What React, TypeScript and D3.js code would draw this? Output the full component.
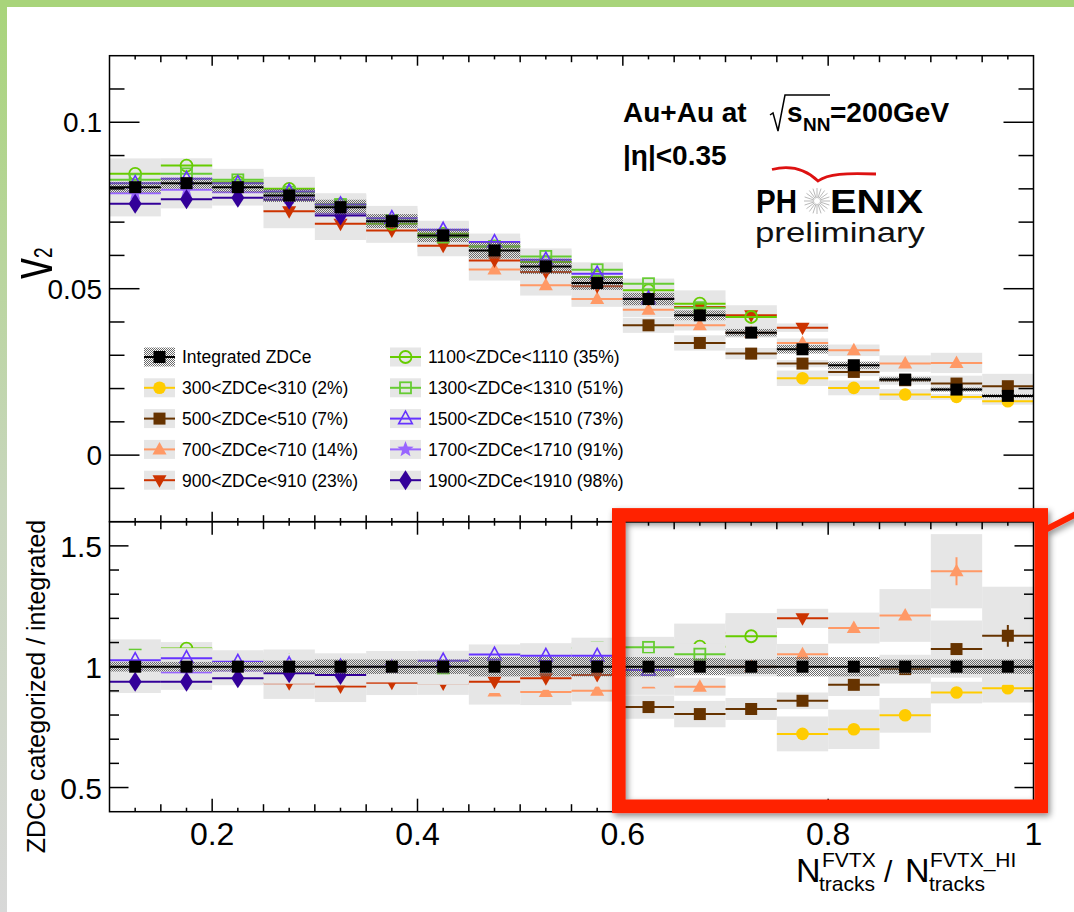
import React from "react";
import * as d3 from "d3";

// ---------- DATA ----------
const binCenters = [0.125, 0.175, 0.225, 0.275, 0.325, 0.375, 0.425, 0.475, 0.525, 0.575, 0.625, 0.675, 0.725, 0.775, 0.825, 0.875, 0.925, 0.975];
const binHalfWidth = 0.025;

const integratedV2 = [0.0805, 0.0817, 0.0805, 0.078, 0.0745, 0.0703, 0.066, 0.0615, 0.0567, 0.0517, 0.0469, 0.042, 0.0368, 0.0318, 0.027, 0.0227, 0.0197, 0.0178];
const integratedSys = [0.02, 0.02, 0.02, 0.025, 0.03, 0.03, 0.03, 0.04, 0.04, 0.04, 0.04, 0.035, 0.03, 0.04, 0.04, 0.03, 0.03, 0.03];

const start300 = 13;
const v2_300 = [0.0231, 0.0202, 0.0182, 0.0175, 0.0162];
const ratio300 = [0.722, 0.741, 0.799, 0.893, 0.911];
const sys300 = [0.1, 0.11, 0.09, 0.05, 0.065];

const start500 = 10;
const v2_500 = [0.039, 0.0337, 0.0305, 0.0275, 0.025, 0.0225, 0.0215, 0.0207];
const ratio500 = [0.833, 0.804, 0.825, 0.859, 0.925, 0.99, 1.073, 1.128];
const sys500 = [0.058, 0.068, 0.055, 0.04, 0.05, 0.06, 0.11, 0.18];
const stat500 = [0, 0, 0, 0, 0, 0, 0.01, 0.045];

const start700 = 7;
const v2_700 = [0.0558, 0.051, 0.0469, 0.0437, 0.039, 0.0368, 0.0337, 0.0315, 0.0275, 0.0277];
const ratio700 = [0.897, 0.895, 0.901, 0.93, 0.917, 1.0, 1.052, 1.16, 1.212, 1.395];
const sys700 = [0.06, 0.06, 0.05, 0.05, 0.04, 0.04, 0.04, 0.055, 0.09, 0.11];
const stat700 = [0, 0, 0, 0, 0, 0, 0, 0, 0.01, 0.058];

const start900 = 3;
const v2_900 = [0.0733, 0.0695, 0.0675, 0.0629, 0.0585, 0.055, 0.0507, 0.047, 0.0445, 0.042, 0.0383];
const ratio900 = [0.932, 0.918, 0.934, 0.93, 0.938, 0.952, 0.966, 1.0, 1.06, 1.14, 1.2];
const sys900 = [0.07, 0.07, 0.055, 0.05, 0.05, 0.05, 0.05, 0.05, 0.05, 0.045, 0.033];

const start1100 = 0;
const v2_1100 = [0.0845, 0.087, 0.082, 0.08, 0.0753, 0.0695, 0.0665, 0.0627, 0.058, 0.0535, 0.0495, 0.0455, 0.0415];
const ratio1100 = [1.055, 1.075, 1.02, 1.025, 1.01, 0.99, 1.005, 1.02, 1.02, 1.035, 1.055, 1.083, 1.126];
const sys1100 = [0.055, 0.025, 0.04, 0.045, 0.045, 0.04, 0.04, 0.04, 0.04, 0.05, 0.065, 0.088, 0.085];

const start1300 = 0;
const v2_1300 = [0.0827, 0.0845, 0.0827, 0.079, 0.0753, 0.0705, 0.0655, 0.0627, 0.0597, 0.0557, 0.0515, 0.0443];
const ratio1300 = [1.048, 1.034, 1.027, 1.013, 1.01, 1.003, 0.995, 1.02, 1.053, 1.077, 1.08, 1.052];
const sys1300 = [0.04, 0.04, 0.04, 0.04, 0.04, 0.04, 0.07, 0.04, 0.04, 0.04, 0.03, 0.04];

const start1500 = 0;
const v2_1500 = [0.0817, 0.083, 0.0817, 0.0792, 0.0753, 0.0712, 0.0677, 0.064, 0.0587, 0.0545, 0.047];
const ratio1500 = [1.027, 1.035, 1.02, 1.01, 1.0, 1.01, 1.025, 1.05, 1.045, 1.045, 0.986];
const sys1500 = [0.04, 0.04, 0.04, 0.04, 0.04, 0.04, 0.04, 0.04, 0.05, 0.055, 0.07];

const start1700 = 0;
const v2_1700 = [0.0787, 0.0797, 0.079, 0.0775, 0.0725, 0.0703];
const ratio1700 = [0.978, 0.975, 0.98, 0.986, 0.973, 1.0];
const sys1700 = [0.04, 0.04, 0.04, 0.04, 0.04, 0.065];

const start1900 = 0;
const v2_1900 = [0.0755, 0.0769, 0.0773, 0.0767, 0.072];
const ratio1900 = [0.938, 0.938, 0.952, 0.973, 0.966];
const sys1900 = [0.05, 0.036, 0.03, 0.045, 0.045];

const labelIntegrated = "Integrated ZDCe";
const seriesLabels = [
  "300<ZDCe<310 (2%)", "500<ZDCe<510 (7%)", "700<ZDCe<710 (14%)", "900<ZDCe<910 (23%)",
  "1100<ZDCe<1110 (35%)", "1300<ZDCe<1310 (51%)", "1500<ZDCe<1510 (73%)", "1700<ZDCe<1710 (91%)", "1900<ZDCe<1910 (98%)",
];

const topYTicks = [0, 0.05, 0.1];
const topYTickLabels = ["0", "0.05", "0.1"];
const botYTicks = [0.5, 1, 1.5];
const botYTickLabels = ["0.5", "1", "1.5"];
const xTicks = [0.2, 0.4, 0.6, 0.8, 1.0];
const xTickLabels = ["0.2", "0.4", "0.6", "0.8", "1"];

// ---------- STYLE ----------
const FONT = "'Liberation Sans', Arial, Helvetica, sans-serif";
const BOX = "#e6e6e6";

type MarkerType = "circle" | "square" | "triUp" | "triDown" | "openCircle" | "openSquare" | "openTri" | "star" | "diamond";

interface Series {
  label: string; color: string; marker: MarkerType; start: number;
  v2: number[]; ratio: number[]; sys: number[]; stat?: number[];
}

const series: Series[] = [
  { label: seriesLabels[0], color: "#ffcc00", marker: "circle", start: start300, v2: v2_300, ratio: ratio300, sys: sys300 },
  { label: seriesLabels[1], color: "#663300", marker: "square", start: start500, v2: v2_500, ratio: ratio500, sys: sys500, stat: stat500 },
  { label: seriesLabels[2], color: "#ff9966", marker: "triUp", start: start700, v2: v2_700, ratio: ratio700, sys: sys700, stat: stat700 },
  { label: seriesLabels[3], color: "#cc3300", marker: "triDown", start: start900, v2: v2_900, ratio: ratio900, sys: sys900 },
  { label: seriesLabels[4], color: "#66cc00", marker: "openCircle", start: start1100, v2: v2_1100, ratio: ratio1100, sys: sys1100 },
  { label: seriesLabels[5], color: "#66cc33", marker: "openSquare", start: start1300, v2: v2_1300, ratio: ratio1300, sys: sys1300 },
  { label: seriesLabels[6], color: "#6633ff", marker: "openTri", start: start1500, v2: v2_1500, ratio: ratio1500, sys: sys1500 },
  { label: seriesLabels[7], color: "#9966ff", marker: "star", start: start1700, v2: v2_1700, ratio: ratio1700, sys: sys1700 },
  { label: seriesLabels[8], color: "#330099", marker: "diamond", start: start1900, v2: v2_1900, ratio: ratio1900, sys: sys1900 },
];

function starPoints(cx: number, cy: number, ro: number, ri: number) {
  return d3.range(10).map((k) => {
    const a = -Math.PI / 2 + (k * Math.PI) / 5;
    const r = k % 2 === 0 ? ro : ri;
    return `${cx + r * Math.cos(a)},${cy + r * Math.sin(a)}`;
  }).join(" ");
}

function Marker({ type, color, cx, cy }: { type: MarkerType; color: string; cx: number; cy: number }) {
  switch (type) {
    case "circle":
      return <circle cx={cx} cy={cy} r={6.3} fill={color} />;
    case "square":
      return <rect x={cx - 6} y={cy - 6} width={12} height={12} fill={color} />;
    case "triUp":
      return <polygon points={`${cx},${cy - 7.5} ${cx + 7},${cy + 5} ${cx - 7},${cy + 5}`} fill={color} />;
    case "triDown":
      return <polygon points={`${cx},${cy + 7.5} ${cx + 7},${cy - 5} ${cx - 7},${cy - 5}`} fill={color} />;
    case "openCircle":
      return <circle cx={cx} cy={cy} r={6} fill="none" stroke={color} strokeWidth={1.8} />;
    case "openSquare":
      return <rect x={cx - 5.5} y={cy - 5.5} width={11} height={11} fill="none" stroke={color} strokeWidth={1.8} />;
    case "openTri":
      return <polygon points={`${cx},${cy - 7.5} ${cx + 6.8},${cy + 5} ${cx - 6.8},${cy + 5}`} fill="none" stroke={color} strokeWidth={1.6} />;
    case "star":
      return <polygon points={starPoints(cx, cy, 8.5, 3.6)} fill={color} />;
    case "diamond":
      return <polygon points={`${cx},${cy - 10} ${cx + 6.5},${cy} ${cx},${cy + 10} ${cx - 6.5},${cy}`} fill={color} />;
  }
  return null;
}

const X0 = 109.5, X1 = 1033.5;
const YT0 = 55.7, YMID = 521.7, YB1 = 811.7;

export default function App() {
  const x = d3.scaleLinear().domain([0.1, 1.0]).range([X0, X1]);
  const yT = d3.scaleLinear().domain([-0.02, 0.12]).range([YMID, YT0]);
  const yB = d3.scaleLinear().domain([0.4, 1.6]).range([YB1, YMID]);

  const xMinor = d3.range(0, 37).map((k) => 0.1 + k * 0.025).filter((v) => v > 0.101 && v < 0.999);
  const xKind = (v: number) => {
    const r2 = Math.round(v * 1000);
    if (r2 % 200 === 0) return 2;
    if (r2 % 50 === 0) return 1;
    return 0;
  };
  const topYMinor = d3.range(-1, 12).map((k) => k * 0.01);
  const botYMinor = d3.range(5, 16).map((k) => k * 0.1);

  const binRect = (cx: number) => ({ xa: x(cx - binHalfWidth), xb: x(cx + binHalfWidth) });

  // ---- top panel elements ----
  const topBoxes: JSX.Element[] = [];
  const topMarks: JSX.Element[] = [];
  series.forEach((s, si) => {
    s.v2.forEach((v, i) => {
      const c = binCenters[s.start + i];
      const { xa, xb } = binRect(c);
      const h = v * s.sys[i];
      topBoxes.push(<rect key={`tb${si}-${i}`} x={xa} width={xb - xa} y={yT(v + h)} height={yT(v - h) - yT(v + h)} fill={BOX} />);
      topMarks.push(<line key={`tl${si}-${i}`} x1={xa} x2={xb} y1={yT(v)} y2={yT(v)} stroke={s.color} strokeWidth={2} />);
      topMarks.push(<Marker key={`tm${si}-${i}`} type={s.marker} color={s.color} cx={x(c)} cy={yT(v)} />);
    });
  });

  // ---- bottom panel elements (drawn series by series) ----
  const botElems: JSX.Element[] = [];
  series.forEach((s, si) => {
    s.ratio.forEach((r, i) => {
      const c = binCenters[s.start + i];
      const { xa, xb } = binRect(c);
      const h = r * s.sys[i];
      botElems.push(<rect key={`bb${si}-${i}`} x={xa} width={xb - xa} y={yB(r + h)} height={yB(r - h) - yB(r + h)} fill={BOX} />);
    });
    s.ratio.forEach((r, i) => {
      const c = binCenters[s.start + i];
      const { xa, xb } = binRect(c);
      botElems.push(<line key={`bl${si}-${i}`} x1={xa} x2={xb} y1={yB(r)} y2={yB(r)} stroke={s.color} strokeWidth={2} />);
      const st = s.stat ? s.stat[i] : 0;
      if (st > 0) botElems.push(<line key={`bs${si}-${i}`} x1={x(c)} x2={x(c)} y1={yB(r + st)} y2={yB(r - st)} stroke={s.color} strokeWidth={2} />);
      botElems.push(<Marker key={`bm${si}-${i}`} type={s.marker} color={s.color} cx={x(c)} cy={yB(r)} />);
    });
  });

  const legendY = (k: number) => 357 + k * 30.8;
  const legendItems = [
    { col: 0, row: 0, integrated: true, label: labelIntegrated, color: "#000", marker: "square" as MarkerType },
    ...series.map((s, i) => ({ col: i < 4 ? 0 : 1, row: i < 4 ? i + 1 : i - 4, integrated: false, label: s.label, color: s.color, marker: s.marker })),
  ];
  const colBoxX = [144, 390];
  const colTextX = [182, 428];

  return (
    <svg width={1074} height={912} style={{ position: "absolute", left: 0, top: 0, background: "#fff" }} fontFamily={FONT}>
      <defs>
        <pattern id="hatch" width={2} height={2} patternUnits="userSpaceOnUse">
          <rect x={0} y={0} width={1} height={1} fill="#6a6a6a" />
          <rect x={1} y={1} width={1} height={1} fill="#6a6a6a" />
        </pattern>
        <linearGradient id="leftStrip" x1="0" y1="0" x2="0" y2="1">
          <stop offset="0" stopColor="#a8d47a" />
          <stop offset="0.55" stopColor="#c8d6bd" />
          <stop offset="1" stopColor="#d8d8d8" />
        </linearGradient>
        <clipPath id="clipTop"><rect x={X0} y={YT0} width={X1 - X0} height={YMID - YT0} /></clipPath>
        <clipPath id="clipBot"><rect x={X0} y={YMID} width={X1 - X0} height={YB1 - YMID} /></clipPath>
        <filter id="shadow" x="-10%" y="-10%" width="130%" height="130%">
          <feDropShadow dx={2} dy={3} stdDeviation={3} floodColor="#000" floodOpacity={0.45} />
        </filter>
      </defs>

      {/* slide frame */}
      <rect x={0} y={0} width={1074} height={912} fill="#fff" />
      <rect x={0} y={0} width={7} height={912} fill="url(#leftStrip)" />
      <rect x={0} y={0} width={1074} height={7} fill="#a8d47a" />

      {/* ---- top panel ---- */}
      <g clipPath="url(#clipTop)">
        {topBoxes}
        {topMarks}
        {integratedV2.map((v, i) => {
          const { xa, xb } = binRect(binCenters[i]);
          const h = v * integratedSys[i];
          return <rect key={`th${i}`} x={xa} width={xb - xa} y={yT(v + h)} height={yT(v - h) - yT(v + h)} fill="url(#hatch)" />;
        })}
        {integratedV2.map((v, i) => {
          const { xa, xb } = binRect(binCenters[i]);
          return <line key={`tk${i}`} x1={xa} x2={xb} y1={yT(v)} y2={yT(v)} stroke="#000" strokeWidth={2} />;
        })}
        {integratedV2.map((v, i) => <Marker key={`tq${i}`} type="square" color="#000" cx={x(binCenters[i])} cy={yT(v)} />)}
      </g>

      {/* ---- bottom panel ---- */}
      <g clipPath="url(#clipBot)">
        {botElems}
        {integratedSys.map((sv, i) => {
          const { xa, xb } = binRect(binCenters[i]);
          return <rect key={`bh${i}`} x={xa} width={xb - xa} y={yB(1 + sv)} height={yB(1 - sv) - yB(1 + sv)} fill="url(#hatch)" />;
        })}
        <line x1={X0} x2={X1} y1={yB(1)} y2={yB(1)} stroke="#000" strokeWidth={2} />
        {binCenters.map((c, i) => <Marker key={`bq${i}`} type="square" color="#000" cx={x(c)} cy={yB(1)} />)}
      </g>

      {/* ---- frames & ticks ---- */}
      <g stroke="#000" strokeWidth={1.5} fill="none">
        <rect x={X0} y={YT0} width={X1 - X0} height={YMID - YT0} />
        <rect x={X0} y={YMID} width={X1 - X0} height={YB1 - YMID} />
        {xMinor.map((v, i) => {
          const k = xKind(v);
          const lt = [3.7, 6.5, 10][k];
          const lb = [4, 7.5, 13][k];
          const xx = x(v);
          return (
            <g key={`xt${i}`}>
              <line x1={xx} x2={xx} y1={YT0} y2={YT0 + lt} />
              <line x1={xx} x2={xx} y1={YMID} y2={YMID - lt} />
              <line x1={xx} x2={xx} y1={YMID} y2={YMID + lb} />
              <line x1={xx} x2={xx} y1={YB1} y2={YB1 - lb} />
            </g>
          );
        })}
        {topYMinor.map((v, i) => {
          const major = Math.abs((v * 100) % 5) < 1e-6;
          const l = major ? 30 : 15;
          const yy = yT(v);
          return (
            <g key={`ty${i}`}>
              <line x1={X0} x2={X0 + l} y1={yy} y2={yy} />
              <line x1={X1} x2={X1 - l} y1={yy} y2={yy} />
            </g>
          );
        })}
        {botYMinor.map((v, i) => {
          const major = Math.abs(Math.round(v * 10) % 5) === 0;
          const l = major ? 19 : 9.5;
          const yy = yB(v);
          return (
            <g key={`by${i}`}>
              <line x1={X0} x2={X0 + l} y1={yy} y2={yy} />
              <line x1={X1} x2={X1 - l} y1={yy} y2={yy} />
            </g>
          );
        })}
      </g>

      {/* tick labels */}
      <g fontSize={28} textAnchor="end" fill="#000">
        {topYTicks.map((v, i) => <text key={`tyl${i}`} x={102} y={yT(v) + 10}>{topYTickLabels[i]}</text>)}
      </g>
      <g fontSize={30} textAnchor="end" fill="#000">
        {botYTicks.map((v, i) => <text key={`byl${i}`} x={102} y={yB(v) + 11}>{botYTickLabels[i]}</text>)}
      </g>
      <g fontSize={32} textAnchor="middle" fill="#000">
        {xTicks.map((v, i) => <text key={`xl${i}`} x={x(v)} y={845}>{xTickLabels[i]}</text>)}
      </g>

      {/* axis titles */}
      <text transform="translate(52,279) rotate(-90) scale(1,1.4)" fontSize={42}>
        v<tspan fontSize={19} dy={0}>2</tspan>
      </text>
      <text transform="translate(45,686.5) rotate(-90)" fontSize={25} textAnchor="middle">ZDCe categorized / integrated</text>
      <g fill="#000">
        <text x={796} y={882} fontSize={34}>N</text>
        <text x={822} y={867} fontSize={21}>FVTX</text>
        <text x={819} y={891} fontSize={21}>tracks</text>
        <text x={884} y={882} fontSize={30}>/</text>
        <text x={905} y={882} fontSize={34}>N</text>
        <text x={930} y={867} fontSize={21}>FVTX_HI</text>
        <text x={929} y={891} fontSize={21}>tracks</text>
      </g>

      {/* legend */}
      {legendItems.map((it, k) => {
        const cy = legendY(it.row);
        const bx = colBoxX[it.col];
        return (
          <g key={`lg${k}`}>
            <rect x={bx} y={cy - 9.5} width={31} height={19} fill={it.integrated ? "url(#hatch)" : BOX} />
            <line x1={bx} x2={bx + 31} y1={cy} y2={cy} stroke={it.color} strokeWidth={2} />
            <Marker type={it.marker} color={it.color} cx={bx + 15.5} cy={cy} />
            <text x={colTextX[it.col]} y={cy + 6.3} fontSize={17.5}>{it.label}</text>
          </g>
        );
      })}

      {/* annotations */}
      <g fontWeight="bold" fill="#000">
        <text x={623} y={122} fontSize={28}>Au+Au at</text>
        <path d="M770,115 L773,113 L778,131 L785,95 L830,95" stroke="#000" strokeWidth={1.5} fill="none" />
        <text x={787} y={122} fontSize={28}>s</text>
        <text x={803} y={131} fontSize={19}>NN</text>
        <text x={830} y={122} fontSize={28}>=200GeV</text>
        <text x={623} y={165} fontSize={28}>|η|&lt;0.35</text>
      </g>
      {/* PHENIX logo */}
      <path d="M772,169.5 C790,165 806,169.5 818,181 C828,173.5 846,173 876,174" stroke="#dd1111" strokeWidth={2.8} fill="none" />
      <g fontWeight="bold" fill="#000" fontSize={33}>
        <text x={756} y={213} textLength={41} lengthAdjust="spacingAndGlyphs">PH</text>
        <text x={830} y={213} textLength={93} lengthAdjust="spacingAndGlyphs">ENIX</text>
      </g>
      <g stroke="#8a8a8a" strokeWidth={0.6}>
        {d3.range(20).map((k) => {
          const a = (k * Math.PI) / 10;
          return <line key={`sb${k}`} x1={817 + 3 * Math.cos(a)} y1={201 + 3 * Math.sin(a)} x2={817 + 13 * Math.cos(a)} y2={201 + 13 * Math.sin(a)} />;
        })}
      </g>
      <text x={755} y={242} fontSize={28} textLength={170} lengthAdjust="spacingAndGlyphs" fill="#111">preliminary</text>

      {/* red highlight box */}
      <g filter="url(#shadow)">
        <rect x={618.8} y={514.9} width={422.4} height={291.4} fill="none" stroke="#ff2200" strokeWidth={13.6} />
        <line x1={1041} y1={532} x2={1080} y2={512} stroke="#ff2200" strokeWidth={6} />
      </g>
    </svg>
  );
}
